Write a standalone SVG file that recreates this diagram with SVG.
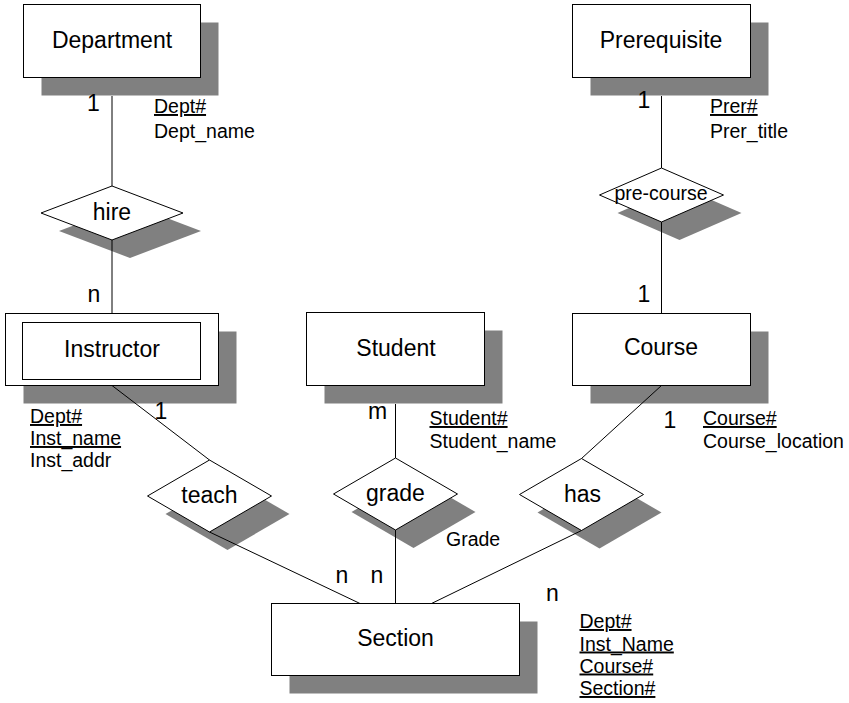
<svg xmlns="http://www.w3.org/2000/svg" width="849" height="703" viewBox="0 0 849 703">
  <style>
    .box { fill: #ffffff; stroke: #000000; stroke-width: 1; }
    .shadow { fill: #808080; stroke: none; }
    .edge { stroke: #000000; stroke-width: 1; fill: none; }
    .name { font-family: "Liberation Sans", Arial, sans-serif; font-size: 23px; fill: #000000; text-anchor: middle; }
    .card { font-family: "Liberation Sans", Arial, sans-serif; font-size: 23px; fill: #000000; text-anchor: middle; }
    .attr { font-family: "Liberation Sans", Arial, sans-serif; font-size: 19.5px; fill: #000000; }
    .key { text-decoration: underline; }
  </style>
  <rect width="849" height="703" fill="#ffffff"/>

  <!-- entities -->
  <g id="department">
    <rect class="shadow" x="41.5" y="22.5" width="177" height="73"/>
    <rect class="box" x="23.5" y="4.5" width="177" height="73"/>
    <text class="name" x="112" y="48">Department</text>
  </g>
  <g id="prerequisite">
    <rect class="shadow" x="590.5" y="22.5" width="178" height="73"/>
    <rect class="box" x="572.5" y="4.5" width="178" height="73"/>
    <text class="name" x="661" y="48">Prerequisite</text>
  </g>
  <g id="instructor">
    <rect class="shadow" x="23.5" y="331.5" width="213" height="72"/>
    <rect class="box" x="5.5" y="313.5" width="213" height="72"/>
    <rect class="box" x="22.5" y="322.5" width="178" height="57"/>
    <text class="name" x="112" y="357">Instructor</text>
  </g>
  <g id="student">
    <rect class="shadow" x="324.5" y="330.5" width="178" height="73"/>
    <rect class="box" x="306.5" y="312.5" width="178" height="73"/>
    <text class="name" x="396" y="356">Student</text>
  </g>
  <g id="course">
    <rect class="shadow" x="590.5" y="331.5" width="178" height="72"/>
    <rect class="box" x="572.5" y="313.5" width="178" height="72"/>
    <text class="name" x="661" y="355">Course</text>
  </g>
  <g id="section">
    <rect class="shadow" x="289.5" y="621.5" width="248" height="72"/>
    <rect class="box" x="271.5" y="603.5" width="248" height="72"/>
    <text class="name" x="395.5" y="646">Section</text>
  </g>

  <!-- relationships -->
  <g id="hire">
    <polygon class="shadow" points="59,231 130,204 201,231 130,258"/>
    <polygon class="box" points="41,213 112,186 183,213 112,240"/>
    <text class="name" x="112" y="220">hire</text>
  </g>
  <g id="pre-course">
    <polygon class="shadow" points="617.5,213 679.5,186 741.5,213 679.5,240"/>
    <polygon class="box" points="599.5,195 661.5,168 723.5,195 661.5,222"/>
    <text class="attr" x="661" y="200" text-anchor="middle">pre-course</text>
  </g>
  <g id="teach">
    <polygon class="shadow" points="165.5,514 227.5,478 289.5,514 227.5,550"/>
    <polygon class="box" points="147.5,496 209.5,460 271.5,496 209.5,532"/>
    <text class="name" x="209.5" y="503">teach</text>
  </g>
  <g id="grade">
    <polygon class="shadow" points="351.5,512 413.5,476 475.5,512 413.5,548"/>
    <polygon class="box" points="333.5,494 395.5,458 457.5,494 395.5,530"/>
    <text class="name" x="395.5" y="501">grade</text>
  </g>
  <g id="has">
    <polygon class="shadow" points="537.5,512.5 599.5,476.5 661.5,512.5 599.5,548.5"/>
    <polygon class="box" points="519.5,494.5 581.5,458.5 643.5,494.5 581.5,530.5"/>
    <text class="name" x="582.5" y="501.5">has</text>
  </g>

  <!-- connectors -->
  <g id="connectors">
    <line class="edge" x1="112" y1="96" x2="112" y2="186"/>
    <line class="edge" x1="112" y1="240" x2="112" y2="313"/>
    <line class="edge" x1="661.5" y1="96" x2="661.5" y2="168"/>
    <line class="edge" x1="661.5" y1="222" x2="661.5" y2="313"/>
    <line class="edge" x1="112" y1="385.5" x2="209.5" y2="460"/>
    <line class="edge" x1="209.5" y1="532" x2="360" y2="603.5"/>
    <line class="edge" x1="395.5" y1="404" x2="395.5" y2="458"/>
    <line class="edge" x1="395.5" y1="530" x2="395.5" y2="603.5"/>
    <line class="edge" x1="661.5" y1="385.5" x2="581.5" y2="458.5"/>
    <line class="edge" x1="581.5" y1="530.5" x2="431.5" y2="603.5"/>
  </g>

  <!-- cardinalities -->
  <g id="cardinalities">
    <text class="card" x="93.5" y="110.5">1</text>
    <text class="card" x="644" y="108">1</text>
    <text class="card" x="94" y="301.5">n</text>
    <text class="card" x="644" y="301.5">1</text>
    <text class="card" x="161" y="419">1</text>
    <text class="card" x="377.5" y="419">m</text>
    <text class="card" x="670" y="428">1</text>
    <text class="card" x="342" y="583">n</text>
    <text class="card" x="377" y="583">n</text>
    <text class="card" x="552.5" y="600.5">n</text>
  </g>

  <!-- attributes -->
  <g id="attributes">
    <text class="attr key" x="154" y="113">Dept#</text>
    <text class="attr" x="154" y="138">Dept_name</text>
    <text class="attr key" x="710" y="113">Prer#</text>
    <text class="attr" x="710" y="138">Prer_title</text>
    <text class="attr key" x="30" y="423">Dept#</text>
    <text class="attr key" x="30" y="445">Inst_name</text>
    <text class="attr" x="30" y="467">Inst_addr</text>
    <text class="attr key" x="429.5" y="425">Student#</text>
    <text class="attr" x="429.5" y="448">Student_name</text>
    <text class="attr" x="446" y="546">Grade</text>
    <text class="attr key" x="703" y="425">Course#</text>
    <text class="attr" x="703" y="448">Course_location</text>
    <text class="attr key" x="579.5" y="628">Dept#</text>
    <text class="attr key" x="579.5" y="650.5">Inst_Name</text>
    <text class="attr key" x="579.5" y="672.5">Course#</text>
    <text class="attr key" x="579.5" y="695">Section#</text>
  </g>
</svg>
